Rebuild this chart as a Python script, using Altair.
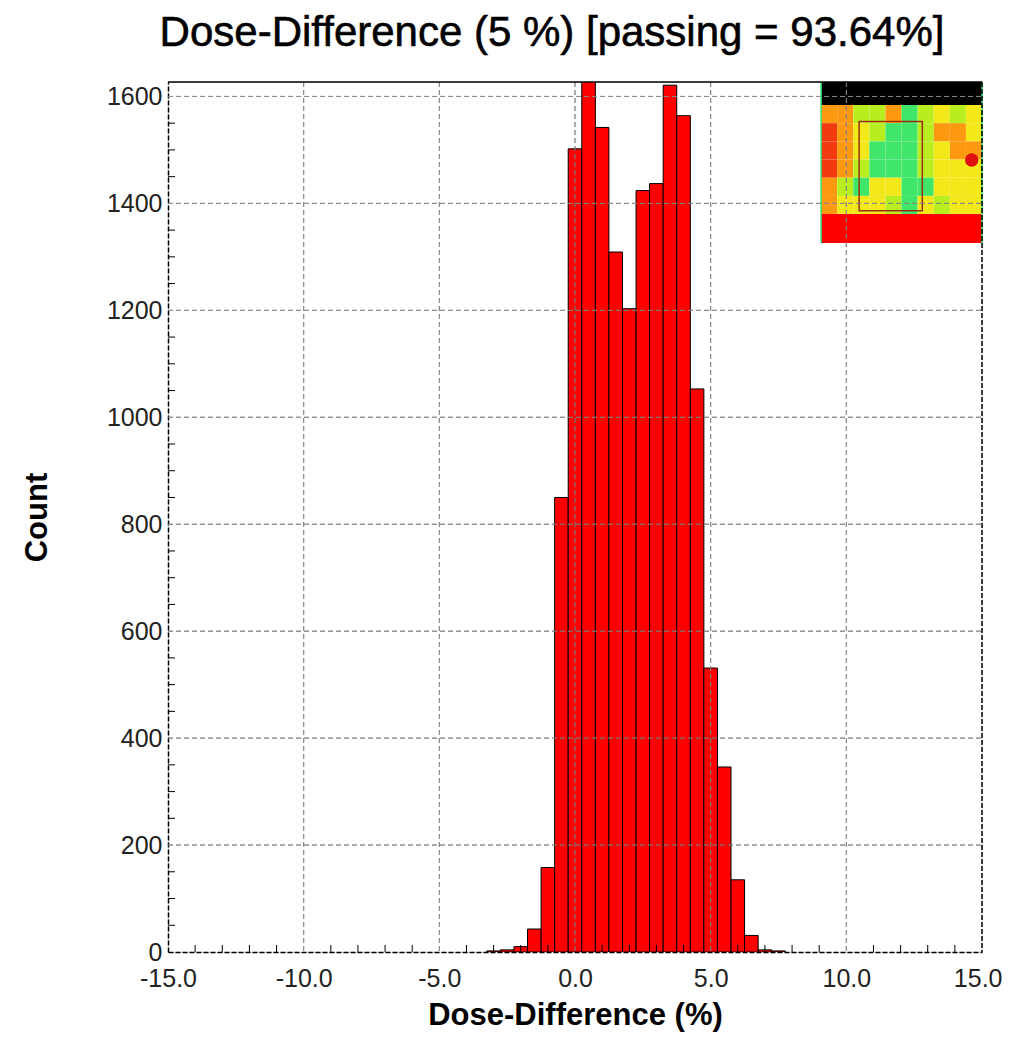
import altair as alt
import pandas as pd

# ---------------- data ----------------
bin_centers = [-3.0, -2.5, -2.0, -1.5, -1.0, -0.5, 0.0, 0.5, 1.0, 1.5, 2.0,
               2.5, 3.0, 3.5, 4.0, 4.5, 5.0, 5.5, 6.0, 6.5, 7.0, 7.5]
counts = [2, 4, 10, 43, 158, 850, 1502, 1640, 1542, 1309, 1203,
          1424, 1437, 1621, 1564, 1053, 531, 346, 135, 31, 4, 2]
BIN_WIDTH = 0.5

x_ticks = [-15, -10, -5, 0, 5, 10, 15]
y_ticks = [0, 200, 400, 600, 800, 1000, 1200, 1400, 1600]
x_grid = [-10, -5, 0, 5, 10]
y_grid = [200, 400, 600, 800, 1000, 1200, 1400, 1600]
x_minor = [-14, -13, -12, -11, -9, -8, -7, -6, -4, -3, -2, -1,
           1, 2, 3, 4, 6, 7, 8, 9, 11, 12, 13, 14]
y_minor = [50, 100, 150, 250, 300, 350, 450, 500, 550, 650, 700, 750,
           850, 900, 950, 1050, 1100, 1150, 1250, 1300, 1350, 1450, 1500, 1550]

X_DOMAIN = [-15, 15]
Y_DOMAIN = [0, 1627]

TITLE = "Dose-Difference (5 %) [passing = 93.64%]"
X_TITLE = "Dose-Difference (%)"
Y_TITLE = "Count"

# thumbnail inset (top-right picture) -- coarse colour map
inset_rows = ["OOLLOGLYLY",
              "ROYLGGLOOY",
              "ROYGGGLYOO",
              "ROLGGGLYYY",
              "OLGYYGGYYY",
              "OYYYLGYLYY"]
inset_palette = {"R": "#f23a10", "O": "#ff9a10", "Y": "#f2e81a",
                 "L": "#b8ee20", "G": "#40e66a"}
INSET_X = [9.07, 15.0]
INSET_BLACK_Y = [1584, 1627]
INSET_MAP_Y = [1380, 1584]
INSET_RED_Y = [1326, 1380]
INSET_BOX = [10.47, 12.8, 1386, 1553]
INSET_SPOT = [14.62, 1481]

FONT = "Liberation Sans"

# ---------------- tables ----------------
bars_df = pd.DataFrame({"c": bin_centers, "count": counts})
bars_df["x0"] = bars_df["c"] - BIN_WIDTH / 2
bars_df["x1"] = bars_df["c"] + BIN_WIDTH / 2
bars_df["base"] = 0

ncol = len(inset_rows[0])
nrow = len(inset_rows)
cw = (INSET_X[1] - INSET_X[0]) / ncol
rh = (INSET_MAP_Y[1] - INSET_MAP_Y[0]) / nrow
cells = []
for r, row in enumerate(inset_rows):
    for c, ch in enumerate(row):
        cells.append({"x": INSET_X[0] + c * cw, "x2": INSET_X[0] + (c + 1) * cw,
                      "y": INSET_MAP_Y[1] - r * rh, "y2": INSET_MAP_Y[1] - (r + 1) * rh,
                      "col": inset_palette[ch]})
cells_df = pd.DataFrame(cells)
bands_df = pd.DataFrame({
    "x": [INSET_X[0], INSET_X[0]], "x2": [INSET_X[1], INSET_X[1]],
    "y": [INSET_BLACK_Y[0], INSET_RED_Y[0]], "y2": [INSET_BLACK_Y[1], INSET_RED_Y[1]],
    "col": ["#000000", "#ff0000"]})
box_df = pd.DataFrame({"x": [INSET_BOX[0]], "x2": [INSET_BOX[1]],
                       "y": [INSET_BOX[2]], "y2": [INSET_BOX[3]]})
spot_df = pd.DataFrame({"x": [INSET_SPOT[0]], "y": [INSET_SPOT[1]]})
edges_df = pd.DataFrame({"x": INSET_X, "a": [INSET_RED_Y[0]] * 2, "b": [INSET_BLACK_Y[1]] * 2})

xs = alt.Scale(domain=X_DOMAIN, nice=False, zero=False)
ys = alt.Scale(domain=Y_DOMAIN, nice=False, zero=False)

LAST = "datum.value == 15"
X_AXIS = alt.Axis(values=x_ticks, grid=False, ticks=False,
                  labelExpr="(datum.value < 0 ? '-' : '') + format(abs(datum.value), '.1f')",
                  labelAlign={"condition": {"test": LAST, "value": "right"}, "value": "center"},
                  labelOffset={"condition": {"test": LAST, "value": 20}, "value": 0},
                  domainColor="#000000", domainDash=[5, 2], domainWidth=1.5,
                  labelFont=FONT, labelFontSize=25, labelColor="#222222",
                  labelPadding=14, labelOverlap=False, labelFlush=False, labelBound=False,
                  title=X_TITLE, titleFont=FONT, titleFontSize=31, titleFontWeight="bold",
                  titleColor="#000000", titlePadding=9)
Y_AXIS = alt.Axis(values=y_ticks, format="d", grid=False, ticks=False,
                  domainColor="#000000", domainDash=[5, 2], domainWidth=1.5,
                  labelFont=FONT, labelFontSize=25, labelColor="#222222",
                  labelPadding=6, labelOverlap=False, labelFlush=False, labelBound=False,
                  title=Y_TITLE, titleFont=FONT, titleFontSize=31, titleFontWeight="bold",
                  titleColor="#000000", titlePadding=53)


def X(field):
    return alt.X(field, scale=xs, axis=X_AXIS)


def Y(field):
    return alt.Y(field, scale=ys, axis=Y_AXIS)


W, H = 814, 870

# ---------------- layers ----------------
bars = alt.Chart(bars_df).mark_rect(
    color="#ff0000", stroke="#000000", strokeWidth=1, clip=True, opacity=1).encode(
    x=X("x0:Q"), x2="x1:Q", y=Y("count:Q"), y2="base:Q")

inset_cells = alt.Chart(cells_df).mark_rect().encode(
    x=X("x:Q"), x2="x2:Q", y=Y("y:Q"), y2="y2:Q", color=alt.Color("col:N", scale=None))
inset_bands = alt.Chart(bands_df).mark_rect().encode(
    x=X("x:Q"), x2="x2:Q", y=Y("y:Q"), y2="y2:Q", color=alt.Color("col:N", scale=None))
inset_box = alt.Chart(box_df).mark_rect(fillOpacity=0, stroke="#9a3010", strokeWidth=1.5).encode(
    x=X("x:Q"), x2="x2:Q", y=Y("y:Q"), y2="y2:Q")
inset_spot = alt.Chart(spot_df).mark_circle(size=180, color="#e01010", opacity=1).encode(
    x=X("x:Q"), y=Y("y:Q"))
inset_edges = alt.Chart(edges_df).mark_rule(color="#30e070", strokeWidth=1.5).encode(
    x=X("x:Q"), y=Y("a:Q"), y2="b:Q")

DASH = [5, 3]


def vgrid(color, opacity):
    return alt.Chart(pd.DataFrame({"x": x_grid})).mark_rule(
        color=color, opacity=opacity, strokeDash=DASH, strokeWidth=1).encode(
        x=X("x:Q"), y=alt.value(0), y2=alt.value(H))


def hgrid(color, opacity):
    return alt.Chart(pd.DataFrame({"y": y_grid})).mark_rule(
        color=color, opacity=opacity, strokeDash=DASH, strokeWidth=1).encode(
        y=Y("y:Q"), x=alt.value(0), x2=alt.value(W))


frame_top = alt.Chart(pd.DataFrame({"y": [Y_DOMAIN[1]]})).mark_rule(color="#000000", strokeWidth=1.5).encode(
    y=Y("y:Q"), x=alt.value(0), x2=alt.value(W))
frame_right = alt.Chart(pd.DataFrame({"x": [X_DOMAIN[1]]})).mark_rule(
    color="#000000", strokeWidth=1.5, strokeDash=[5, 2]).encode(
    x=X("x:Q"), y=alt.value(0), y2=alt.value(H))

minor_x_layer = alt.Chart(pd.DataFrame({"x": x_minor})).mark_rule(color="#000000", strokeWidth=1).encode(
    x=X("x:Q"), y=alt.value(H), y2=alt.value(H - 7))
minor_y_layer = alt.Chart(pd.DataFrame({"y": y_minor})).mark_rule(color="#000000", strokeWidth=1).encode(
    y=Y("y:Q"), x=alt.value(0), x2=alt.value(7))

title_layer = alt.Chart(pd.DataFrame({"t": [TITLE]})).mark_text(
    font=FONT, fontSize=42, fontWeight="normal", color="#000000",
    stroke="#000000", strokeWidth=0.6,
    align="center", baseline="alphabetic").encode(
    text="t:N", x=alt.value(384), y=alt.value(-36))

chart = alt.layer(
    bars,
    inset_cells, inset_bands, inset_box, inset_spot, inset_edges,
    vgrid("#1a1a1a", 1), hgrid("#1a1a1a", 1),
    vgrid("#ffffff", 0.5), hgrid("#ffffff", 0.5),
    frame_top, frame_right, minor_x_layer, minor_y_layer, title_layer,
).properties(
    width=W, height=H,
    padding={"left": 160, "top": 74, "right": 20, "bottom": 90},
    autosize=alt.AutoSizeParams(type="none"),
).configure_view(stroke=None).configure(background="#ffffff")

chart.save("out.html", embed_options={"renderer": "svg", "actions": False})
